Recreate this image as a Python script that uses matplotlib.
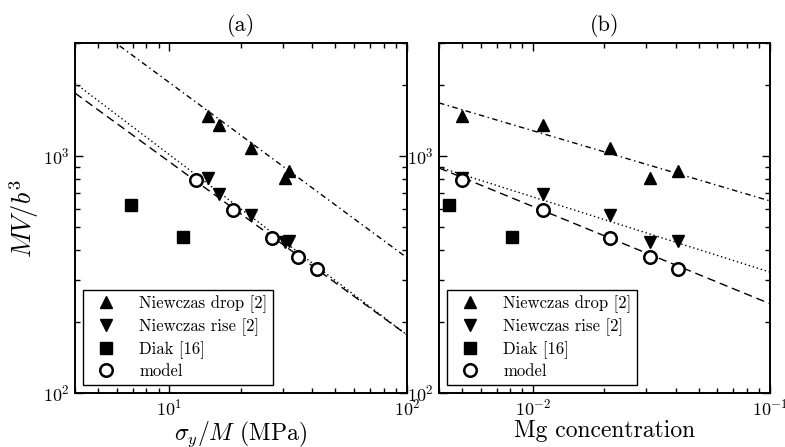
import numpy as np
import matplotlib
matplotlib.use("Agg")
import matplotlib.pyplot as plt
from matplotlib.ticker import NullFormatter

plt.rcParams["font.family"] = "serif"
plt.rcParams["font.serif"] = ["cmr10"]
plt.rcParams["mathtext.fontset"] = "cm"
plt.rcParams["axes.formatter.use_mathtext"] = True

# ── data ─────────────────────────────────────────────────────────────────────
mg_conc      = [0.005, 0.011, 0.021, 0.031, 0.041]
sigma_exp    = [14.6, 16.1, 22.0, 30.7, 31.9]      # sigma_y/M of the alloys (MPa)
mv_drop      = [1475, 1350, 1080, 807, 864]
mv_rise      = [805, 692, 565, 433, 437]

sigma_model  = [12.9, 18.6, 27.1, 34.8, 41.9]
mv_model     = [792, 592, 451, 375, 334]

diak_sigma   = [6.9, 11.4]
diak_mg      = [0.0044, 0.0081]
diak_mv      = [621, 455]

# power-law guides  MV/b^3 = A * x^(-n)
fit_sigma_drop  = (11190, 0.739)
fit_sigma_rise  = (5828, 0.760)
fit_sigma_model = (5075, 0.730)
fit_mg_drop     = (327, 0.296)
fit_mg_rise     = (156, 0.317)
fit_mg_model    = (92.6, 0.410)

fig = plt.figure(figsize=(7.85, 4.47), dpi=100)
ax1 = fig.add_axes([0.0955, 0.1208, 0.4229, 0.783])
ax2 = fig.add_axes([0.5592, 0.1208, 0.4217, 0.783])

dash_dot = (4, 2.5, 1, 2.5)
dashed   = (6, 3.5)
dotted   = (1, 2)


def panel(ax, x_exp, x_model, x_diak, fits, xlim, title, xlabel):
    xx = np.logspace(np.log10(xlim[0]), np.log10(xlim[1]), 200)
    for (A, n), ds in zip(fits, [dash_dot, dotted, dashed]):
        ax.plot(xx, A * xx ** (-n), color="k", lw=1.0, dashes=ds)

    ax.plot(x_exp, mv_drop, "^", color="k", ms=9, ls="none", label="Niewczas drop [2]")
    ax.plot(x_exp, mv_rise, "v", color="k", ms=9, ls="none", label="Niewczas rise [2]")
    ax.plot(x_diak, diak_mv, "s", color="k", ms=9, ls="none", label="Diak [16]")
    ax.plot(x_model, mv_model, "o", mfc="white", mec="k", mew=1.8, ms=9,
            ls="none", label="model")

    ax.set_xscale("log")
    ax.set_yscale("log")
    ax.set_xlim(*xlim)
    ax.set_ylim(100, 3000)
    ax.yaxis.set_minor_formatter(NullFormatter())
    ax.xaxis.set_minor_formatter(NullFormatter())
    ax.tick_params(which="both", direction="in", top=True, right=True,
                   labelsize=13, width=1.0)
    ax.tick_params(which="major", length=6)
    ax.tick_params(which="minor", length=3.5)
    for sp in ax.spines.values():
        sp.set_linewidth(1.4)
    ax.set_title(title, fontsize=16, pad=9)
    ax.set_xlabel(xlabel, fontsize=17, labelpad=1)

    leg = ax.legend(loc="lower left", fontsize=12, numpoints=1,
                    fancybox=False, framealpha=1, edgecolor="k",
                    borderaxespad=0.5, handletextpad=1.0,
                    labelspacing=0.3, borderpad=0.35)
    leg.get_frame().set_linewidth(1.0)


panel(ax1, sigma_exp, sigma_model, diak_sigma,
      [fit_sigma_drop, fit_sigma_rise, fit_sigma_model],
      (4, 100), "(a)", r"$\sigma_y/M$ (MPa)")
panel(ax2, mg_conc, mg_conc, diak_mg,
      [fit_mg_drop, fit_mg_rise, fit_mg_model],
      (0.004, 0.1), "(b)", "Mg concentration")

ax1.set_ylabel(r"$MV/b^3$", fontsize=19, labelpad=2)

fig.savefig("out.png", dpi=100)
